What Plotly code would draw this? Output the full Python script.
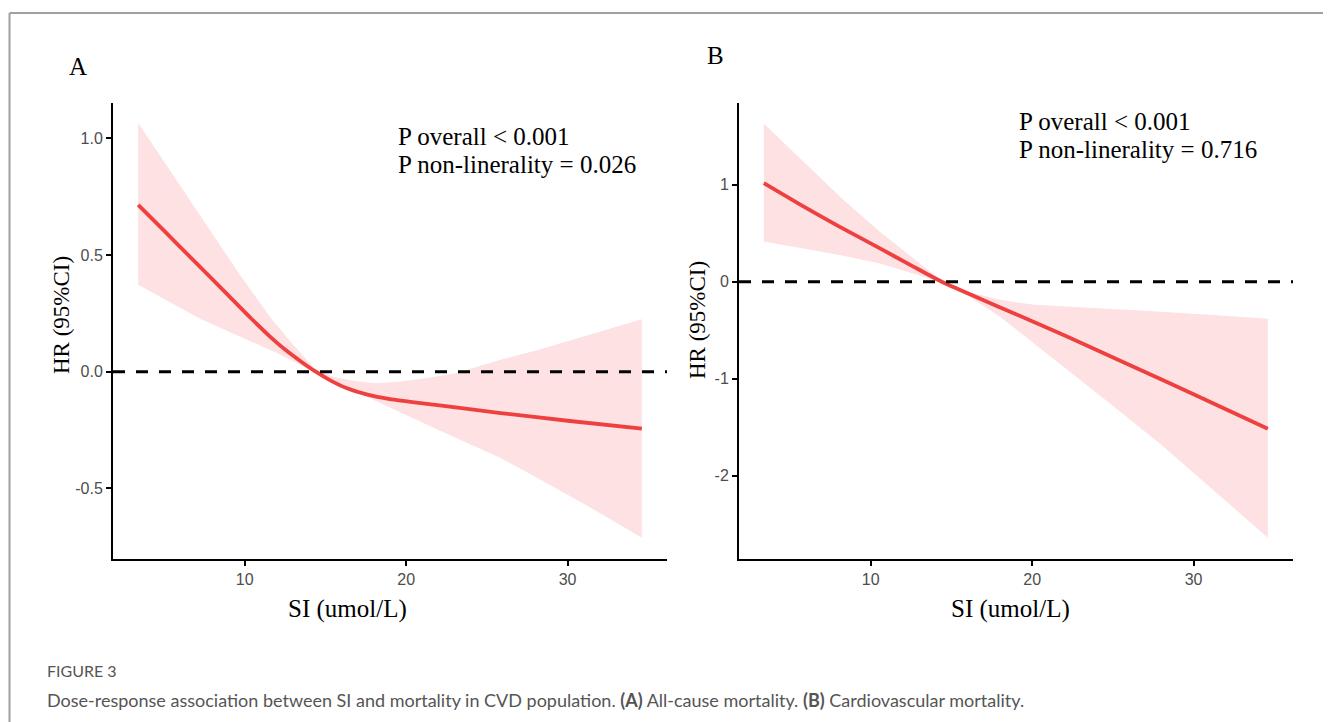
import plotly.graph_objects as go

OFF = 8  # browser default body margin compensation
W, H = 1331 - OFF, 722 - OFF

# ---------------- data ----------------
# Panel A: all-cause mortality
a_curve_x = [3.4, 5, 7, 9, 10.4, 11.5, 12.5, 13.5, 14.4, 15.3, 16.3, 17.6, 19, 21.7, 25.85, 30, 34.6]
a_curve_y = [0.715, 0.604, 0.465, 0.326, 0.228, 0.155, 0.095, 0.043, 0.0, -0.037, -0.07, -0.098, -0.117, -0.141, -0.177, -0.21, -0.244]

a_upper_x = [3.4, 5, 7, 9.75, 11.7, 13, 14.4, 15.5, 16.8, 18.2, 19.5, 21, 23, 25.85, 28, 31, 34.6]
a_upper_y = [1.065, 0.9, 0.697, 0.41, 0.223, 0.115, 0.01, -0.022, -0.04, -0.049, -0.043, -0.03, -0.008, 0.051, 0.09, 0.15, 0.225]

a_lower_x = [3.4, 7.3, 9.75, 12, 14.4, 16, 18, 20, 22, 25.85, 28, 31, 34.6]
a_lower_y = [0.373, 0.225, 0.15, 0.08, -0.005, -0.055, -0.12, -0.185, -0.25, -0.37, -0.45, -0.565, -0.711]

# Panel B: cardiovascular mortality
b_curve_x = [3.38, 5.61, 8, 10.57, 12.5, 14.4, 16.5, 19, 22.16, 26, 30, 34.6]
b_curve_y = [1.018, 0.8, 0.575, 0.345, 0.17, 0.0, -0.155, -0.335, -0.564, -0.855, -1.16, -1.517]

b_upper_x = [3.38, 5.61, 8.3, 10.57, 12.5, 14.4, 15.95, 18.02, 20.1, 24.2, 28, 31, 34.6]
b_upper_y = [1.63, 1.27, 0.846, 0.516, 0.26, 0.01, -0.1, -0.186, -0.237, -0.272, -0.31, -0.34, -0.38]

b_lower_x = [3.38, 5.61, 8, 10.57, 12.5, 14.4, 16, 18, 20, 22.16, 25, 28, 31, 34.6]
b_lower_y = [0.416, 0.35, 0.28, 0.19, 0.09, -0.005, -0.14, -0.36, -0.62, -0.9, -1.28, -1.68, -2.12, -2.64]

x_ticks = [10, 20, 30]
x_ticktext = ["10", "20", "30"]
a_yticks = [-0.5, 0.0, 0.5, 1.0]
a_yticktext = ["-0.5", "0.0", "0.5", "1.0"]
b_yticks = [-2, -1, 0, 1]
b_yticktext = ["-2", "-1", "0", "1"]

x_range = [1.84, 36.16]
a_yrange = [-0.80, 1.151]
b_yrange = [-2.855, 1.845]

a_ptext = ["P overall < 0.001", "P non-linerality = 0.026"]
b_ptext = ["P overall < 0.001", "P non-linerality = 0.716"]

caption_head = "FIGURE 3"
caption_text = ("Dose-response association between SI and mortality in CVD population. "
                "<b>(A)</b> All-cause mortality. <b>(B)</b> Cardiovascular mortality.")

# ---------------- styling ----------------
LINE_COL = "#EF4040"
FILL_COL = "#FDE1E3"
SERIF = "Liberation Serif, Times New Roman, serif"
SANS = "Liberation Sans, Arial, sans-serif"
CAP_FONT = "Lato, Open Sans, sans-serif"

def px_x(p):
    return (p - OFF) / W

def px_y(p):
    return 1 - (p - OFF) / H

fig = go.Figure()

def add_panel(xa, ya, cx, cy, ux, uy, lx, ly):
    poly_x = list(ux) + list(reversed(lx))
    poly_y = list(uy) + list(reversed(ly))
    fig.add_trace(go.Scatter(x=poly_x, y=poly_y, fill="toself", fillcolor=FILL_COL,
                             line=dict(width=0), mode="lines", hoverinfo="skip",
                             showlegend=False, xaxis=xa, yaxis=ya))
    fig.add_trace(go.Scatter(x=cx, y=cy, mode="lines",
                             line=dict(color=LINE_COL, width=3.8, shape="spline", smoothing=0.6),
                             showlegend=False, xaxis=xa, yaxis=ya))

add_panel("x", "y", a_curve_x, a_curve_y, a_upper_x, a_upper_y, a_lower_x, a_lower_y)
add_panel("x2", "y2", b_curve_x, b_curve_y, b_upper_x, b_upper_y, b_lower_x, b_lower_y)

axis_common = dict(showgrid=False, zeroline=False, showline=True, linecolor="black", linewidth=2,
                   ticks="outside", ticklen=5, tickwidth=1.5, tickcolor="black",
                   tickfont=dict(family=SANS, size=16, color="#4d4d4d"), fixedrange=True)

ydom = [px_y(558.5), px_y(103)]
fig.update_layout(
    width=W, height=H, margin=dict(l=0, r=0, t=0, b=0),
    paper_bgcolor="white", plot_bgcolor="white", showlegend=False,
    xaxis=dict(domain=[px_x(113), px_x(667)], range=x_range, tickvals=x_ticks, ticktext=x_ticktext,
               anchor="y", **axis_common),
    yaxis=dict(domain=ydom, range=a_yrange, tickvals=a_yticks, ticktext=a_yticktext,
               anchor="x", **axis_common),
    xaxis2=dict(domain=[px_x(739), px_x(1293)], range=x_range, tickvals=x_ticks, ticktext=x_ticktext,
                anchor="y2", **axis_common),
    yaxis2=dict(domain=ydom, range=b_yrange, tickvals=b_yticks, ticktext=b_yticktext,
                anchor="x2", **axis_common),
)

shapes = []
for xr, yr in (("x domain", "y"), ("x2 domain", "y2")):
    shapes.append(dict(type="line", xref=xr, yref=yr, x0=0, x1=1, y0=0, y1=0,
                       line=dict(color="black", width=3, dash="12px,11px")))
shapes.append(dict(type="line", xref="paper", yref="paper", x0=px_x(9.5), x1=1, y0=px_y(13), y1=px_y(13),
                   line=dict(color="#a0a0a0", width=2)))
shapes.append(dict(type="line", xref="paper", yref="paper", x0=px_x(9.5), x1=px_x(9.5), y0=0, y1=px_y(13),
                   line=dict(color="#a0a0a0", width=2)))
fig.update_layout(shapes=shapes)

ann = []
def txt(x, y, text, size, family=SERIF, color="black", xanchor="left", yanchor="middle", angle=0):
    ann.append(dict(x=px_x(x), y=px_y(y), xref="paper", yref="paper", text=text, showarrow=False,
                    font=dict(family=family, size=size, color=color), xanchor=xanchor, yanchor=yanchor,
                    textangle=angle))

txt(78, 66, "A", 25, xanchor="center")
txt(715, 56, "B", 25, xanchor="center")
txt(396, 136, a_ptext[0], 25)
txt(396, 164, a_ptext[1], 25)
txt(1017, 122, b_ptext[0], 25)
txt(1017, 150, b_ptext[1], 25)
txt(347, 609, "SI (umol/L)", 25, xanchor="center")
txt(1010, 609, "SI (umol/L)", 25, xanchor="center")
txt(61, 315, "HR (95%CI)", 23, xanchor="center", angle=-90)
txt(697, 320, "HR (95%CI)", 23, xanchor="center", angle=-90)
txt(45, 670, caption_head, 16, family=CAP_FONT, color="#555555")
txt(45, 700, caption_text, 18, family=CAP_FONT, color="#555555")
fig.update_layout(annotations=ann)

fig.write_html("out.html")
